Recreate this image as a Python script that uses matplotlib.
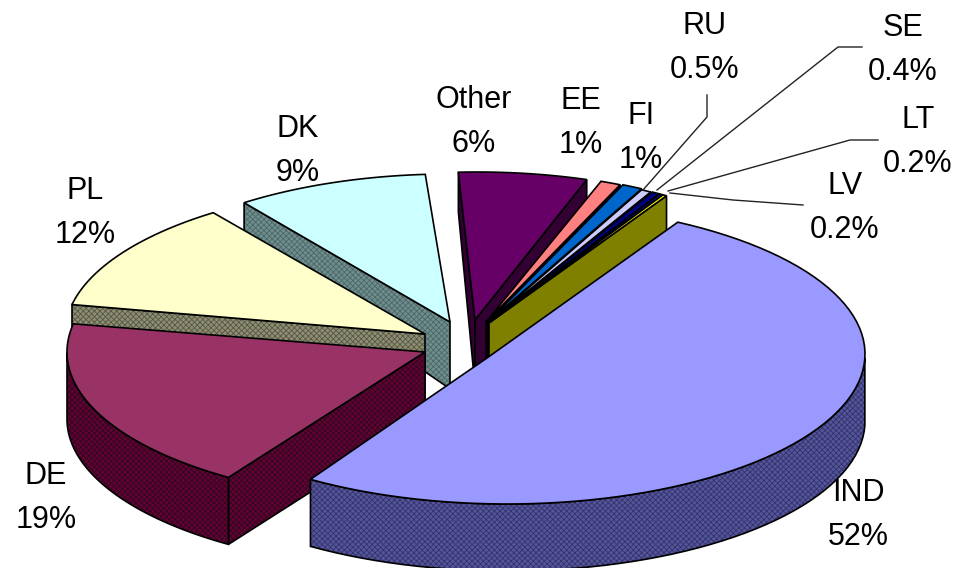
import numpy as np
import matplotlib
matplotlib.use('Agg')
import matplotlib.pyplot as plt
from matplotlib.patches import Polygon

plt.rcParams['font.family'] = ['Liberation Sans', 'DejaVu Sans']
plt.rcParams['hatch.linewidth'] = 0.6

# data, clockwise from IND
names = ['IND', 'DE', 'PL', 'DK', 'Other', 'EE', 'FI', 'RU', 'SE', 'LT', 'LV']
shares = [52, 19, 12, 9, 6, 1, 1, 0.5, 0.4, 0.2, 0.2]

top_colors = ['#9999FF', '#993366', '#FFFFCC', '#CCFFFF', '#660066', '#FF8080',
              '#0066CC', '#CCCCFF', '#000080', '#000080', '#FFFF00']
wall_colors = ['#55559f', '#660033', '#8f8f70', '#6f8f8f', '#330033', '#330033',
               '#003366', '#666680', '#000040', '#000040', '#808000']
dither_colors = ['#333366', '#2a0a20', '#55554a', '#4d6666', None, None,
                 None, None, None, None, None]

# layout of each slice on the picture (pixels): tip, rim centre, radii, turn in degrees
tip_x = [487, 425, 425, 450, 475, 486, 488, 488, 489, 489, 489]
tip_y = [358, 352, 334, 322, 320, 322, 322, 323, 323, 323, 323]
rim_x = [507, 425, 425, 450, 477, 486, 488, 488, 489, 489, 489]
rim_y = [354, 352, 334, 324, 322, 322, 322, 323, 323, 323, 323]
rx = [358, 358, 360, 350, 350, 332, 334, 334, 335, 335, 335]
ry = [150, 150, 150, 150, 150, 150, 150, 150, 150, 150, 150]
turn = [3.5, 3.5, 3, 3, 2, 0, 0, 0, 0, 0, 0]
start_angle = 58

# back slices first, IND last
draw_order = [4, 5, 6, 7, 8, 9, 10, 3, 2, 1, 0]


def depth(y):
    return np.clip(40 + (y - 173) * 0.18, 40, 67)


def wall(ax, pts, face, dither):
    if dither:
        ax.add_patch(Polygon(pts, facecolor=face, edgecolor=dither, hatch='xxxxxx', linewidth=0))
        ax.add_patch(Polygon(pts, facecolor='none', edgecolor='black', linewidth=1.2))
    else:
        ax.add_patch(Polygon(pts, facecolor=face, edgecolor='black', linewidth=1.2))


fig = plt.figure(figsize=(9.56, 5.68), dpi=100)
ax = fig.add_axes([0, 0, 1, 1])
ax.set_xlim(0, 956)
ax.set_ylim(568, 0)
ax.axis('off')

spans = np.array(shares) / sum(shares) * 360
ends = start_angle - np.cumsum(spans)
starts = ends + spans

for i in draw_order:
    t_deg = np.linspace(starts[i], ends[i], 80) + turn[i]
    t = np.radians(t_deg)
    x = rim_x[i] + rx[i] * np.cos(t)
    y = rim_y[i] - ry[i] * np.sin(t)
    tip = (tip_x[i], tip_y[i])
    d_tip = depth(tip_y[i])
    mx, my = x[40] - tip[0], y[40] - tip[1]
    # side walls, only those that face the viewer
    for k in (0, -1):
        ex, ey = x[k] - tip[0], y[k] - tip[1]
        if ex * (ex * my - ey * mx) < 0:
            wall(ax, [tip, (x[k], y[k]), (x[k], y[k] + depth(y[k])), (tip[0], tip[1] + d_tip)],
                 wall_colors[i], dither_colors[i])
    # outer wall, front part of the rim only
    front = np.sin(t) < 0
    if front.sum() > 1:
        fx, fy = x[front], y[front]
        outer = list(zip(fx, fy)) + list(zip(fx[::-1], (fy + depth(fy))[::-1]))
        wall(ax, outer, wall_colors[i], dither_colors[i])
    ax.add_patch(Polygon([tip] + list(zip(x, y)), facecolor=top_colors[i],
                         edgecolor='black', linewidth=1.2))

# leader lines of the small slices
ax.plot([707, 707, 643], [95, 117, 190], color='#222222', lw=1)
ax.plot([862, 838, 657], [47, 47, 190], color='#222222', lw=1)
ax.plot([878, 850, 668], [140, 140, 191], color='#222222', lw=1)
ax.plot([803, 733, 670], [205, 200, 193], color='#222222', lw=1)

label_x = [858, 46, 85, 298, 474, 581, 641, 705, 903, 918, 845]
label_y = [515, 498, 213, 151, 122, 123, 138, 48, 50, 142, 208]

for i, name in enumerate(names):
    ax.text(label_x[i], label_y[i], f'{name}\n{shares[i]:g}%', ha='center', va='center',
            fontsize=22, linespacing=1.62, color='black')

fig.savefig('out.png', dpi=100)
